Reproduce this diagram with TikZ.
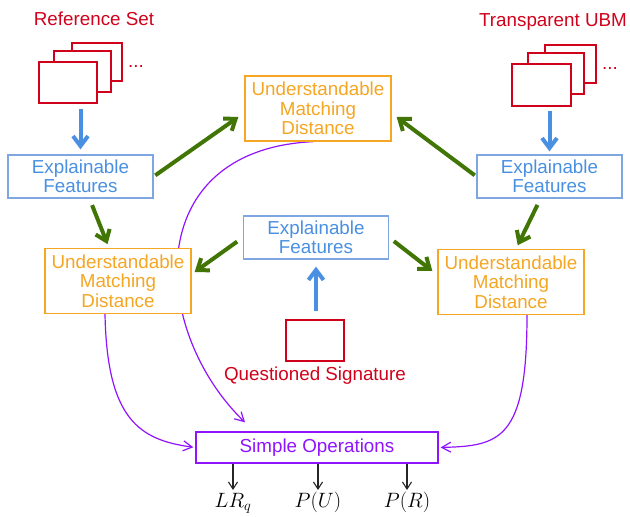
\documentclass[tikz,border=0pt]{standalone}
\usepackage{fontspec}
\setmainfont{Liberation Sans}
\usetikzlibrary{positioning,arrows.meta,backgrounds}

\definecolor{sigred}{HTML}{D0021B}
\definecolor{featblue}{HTML}{4A90E2}
\definecolor{featline}{HTML}{7EA6E0}
\definecolor{distorange}{HTML}{F5A623}
\definecolor{matchgreen}{HTML}{417505}
\definecolor{oppurple}{HTML}{9013FE}

\begin{document}
\begin{tikzpicture}[
    x=1pt,
    y=-1pt,
    font=\fontsize{18.8pt}{19.5pt}\selectfont,
    featbox/.style={
        draw=featline,
        fill=white,
        line width=1.3pt,
        text=featblue,
        minimum width=145pt,
        minimum height=43pt,
        inner sep=0pt,
        align=center
    },
    distbox/.style={
        draw=distorange,
        fill=white,
        line width=1.3pt,
        text=distorange,
        minimum width=146pt,
        minimum height=65pt,
        inner sep=0pt,
        align=center
    },
    sheet/.style={
        draw=sigred,
        fill=white,
        line width=1.3pt,
        inner sep=0pt
    },
    setlabel/.style={
        text=sigred,
        inner sep=0pt
    },
    opbox/.style={
        draw=oppurple,
        fill=white,
        line width=1.3pt,
        text=oppurple,
        minimum width=242pt,
        minimum height=31pt,
        inner sep=0pt
    },
    outlabel/.style={
        anchor=north,
        inner sep=0pt,
        text height=15pt,
        text depth=5pt,
        font=\fontsize{20pt}{22pt}\selectfont
    },
    feed/.style={
        -{Straight Barb[length=10pt,width=15pt]},
        line width=4pt,
        featblue
    },
    match/.style={
        -{Straight Barb[length=10pt,width=15pt]},
        line width=4pt,
        matchgreen
    },
    combine/.style={
        -{Straight Barb[length=9pt,width=10pt]},
        line width=1.2pt,
        oppurple
    },
    result/.style={
        -{Straight Barb[length=7pt,width=9pt]},
        line width=1.1pt,
        black!85
    }
]

\useasboundingbox (0,0) rectangle (630,517);

\node[setlabel] (reflabel) at (94,19) {Reference Set};

\node[sheet, minimum width=50pt, minimum height=38pt] (refA) at (97,62) {};

\node[sheet, minimum width=57pt, minimum height=41pt] (refB) at (82.5,71.5) {};

\node[sheet, minimum width=58pt, minimum height=41pt] (refC) at (68,82.5) {};

\node[setlabel] (refdots) at (136,66) {...};

\node[setlabel] (ubmlabel) at (553,22) {Transparent UBM};

\node[sheet, minimum width=51pt, minimum height=38pt] (ubmA) at (570.5,64) {};

\node[sheet, minimum width=56pt, minimum height=41pt] (ubmB) at (556,73.5) {};

\node[sheet, minimum width=59pt, minimum height=42pt] (ubmC) at (541.5,85) {};

\node[setlabel] (ubmdots) at (610,68) {...};

\node[featbox] (efL) at (80.5,176.5) {Explainable\\Features};

\node[featbox] (efR) at (549.5,176.5) {Explainable\\Features};

\node[featbox] (efC) at (316,237.5) {Explainable\\Features};

\node[distbox] (umdT) at (318,108.5) {Understandable\\Matching\\Distance};

\node[distbox] (umdL) at (118,281) {Understandable\\Matching\\Distance};

\node[distbox] (umdR) at (511,282) {Understandable\\Matching\\Distance};

\node[sheet, minimum width=58pt, minimum height=41pt] (qs) at (315,340.5) {};

\node[setlabel, below=5pt of qs] (qslabel) {Questioned Signature};

\node[opbox] (ops) at (317,447.5) {Simple Operations};

\node[outlabel] (lrq) at (233,492) {$LR_q$};

\node[outlabel] (pu) at (318,492) {$P(U)$};

\node[outlabel] (pr) at (407,492) {$P(R)$};

\draw[feed, shorten <=5pt, shorten >=5pt] (efL.north |- refC.south) -- (efL.north);

\draw[feed, shorten <=4pt, shorten >=3pt] (efR.north |- ubmC.south) -- (efR.north);

\draw[feed, shorten <=8pt, shorten >=7pt] (qs.north -| efC.south) -- (efC.south);

\draw[match, shorten <=2pt] (efL.east) -- ([xshift=-6pt, yshift=-8.5pt]umdT.west);

\draw[match, shorten <=2pt] (efR.west) -- ([xshift=5pt, yshift=-8.5pt]umdT.east);

\draw[match, shorten <=7pt, shorten >=4pt] ([xshift=9pt]efL.south) -- ([xshift=-9pt]umdL.north);

\draw[match, shorten <=7pt, shorten >=4pt] ([xshift=-9pt]efR.south) -- ([xshift=5pt]umdR.north);

\draw[match, shorten <=7pt] (efC.west) -- ([xshift=3pt, yshift=9pt]umdL.east);

\draw[match, shorten <=6pt] (efC.east) -- ([xshift=-5pt, yshift=11pt]umdR.west);

\begin{scope}[on background layer]
\draw[combine] ([xshift=-5pt]umdT.south) .. controls (140,150) and (150,330) .. ([xshift=-72pt, yshift=9pt]ops.north);
\end{scope}

\draw[combine, shorten >=2pt] ([xshift=-13pt]umdL.south) .. controls (107,420) and (140,440) .. (ops.west);

\draw[combine, shorten >=2pt] ([xshift=16pt]umdR.south) .. controls (527,440) and (500,446) .. (ops.east);

\draw[result, shorten >=2pt] (ops.south -| lrq.north) -- (lrq.north);

\draw[result, shorten >=2pt] (ops.south -| pu.north) -- (pu.north);

\draw[result, shorten >=2pt] (ops.south -| pr.north) -- (pr.north);

\end{tikzpicture}
\end{document}
